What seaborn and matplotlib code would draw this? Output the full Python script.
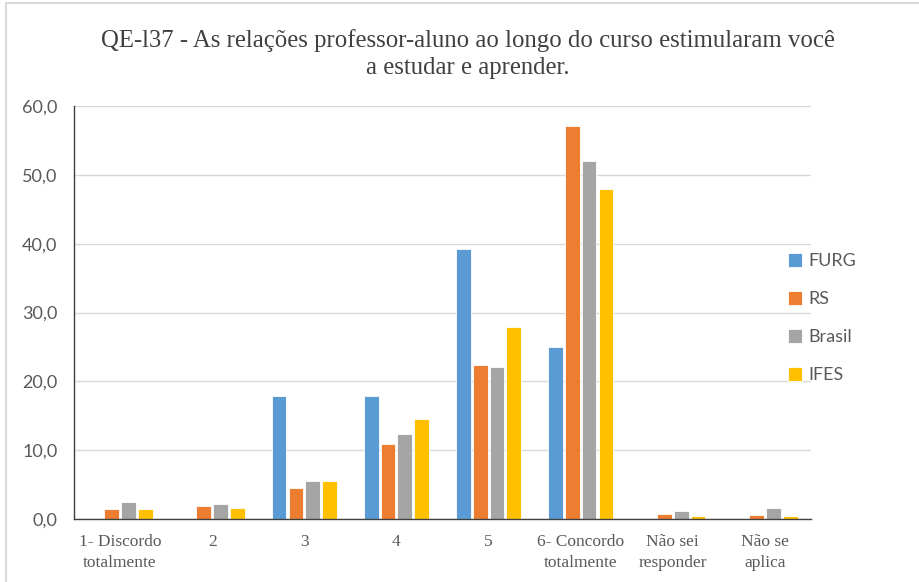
import pandas as pd
import numpy as np
import matplotlib.pyplot as plt
import seaborn as sns
from matplotlib.patches import Rectangle

# categories and values (%)
categorias = ['1- Discordo\ntotalmente', '2', '3', '4', '5',
              '6- Concordo\ntotalmente', 'Não sei\nresponder', 'Não se\naplica']
furg = [0.0, 0.0, 17.8, 17.8, 39.2, 25.0, 0.0, 0.0]
rs = [1.45, 1.9, 4.55, 10.9, 22.4, 57.1, 0.7, 0.6]
brasil = [2.4, 2.2, 5.5, 12.35, 22.1, 52.0, 1.15, 1.6]
ifes = [1.45, 1.6, 5.5, 14.6, 27.9, 47.9, 0.45, 0.45]
series = ['FURG', 'RS', 'Brasil', 'IFES']
cores = {'FURG': '#5b9bd5', 'RS': '#ed7d31', 'Brasil': '#a5a5a5', 'IFES': '#ffc000'}

# long format for seaborn
df = pd.DataFrame({'Categoria': categorias, 'FURG': furg, 'RS': rs,
                   'Brasil': brasil, 'IFES': ifes})
df_long = df.melt(id_vars='Categoria', var_name='Grupo', value_name='Valor')

sns.set_style('white')

fig = plt.figure(figsize=(9.2, 5.82), dpi=100)
ax = fig.add_axes([74 / 920, 1 - 519 / 582, (811 - 74) / 920, (519 - 106) / 582])

sns.barplot(data=df_long, x='Categoria', y='Valor', hue='Grupo', hue_order=series,
            palette=cores, width=0.73, gap=0.12, saturation=1,
            edgecolor='white', linewidth=0.6, ax=ax)

ax.set_ylim(0, 60)
ax.set_xlim(-0.5, len(categorias) - 0.5)
ax.set_yticks(np.arange(0, 61, 10))
ax.set_yticklabels([f'{v:.1f}'.replace('.', ',') for v in np.arange(0, 61, 10)],
                   fontsize=13, color='#595959', family='Lato')
ax.set_xticks(range(len(categorias)))
ax.set_xticklabels(categorias, fontsize=12.5, color='#595959', family='Liberation Serif',
                   linespacing=1.4)
ax.tick_params(axis='y', length=0, pad=12)
ax.tick_params(axis='x', length=0, pad=11)
ax.set_xlabel('')
ax.set_ylabel('')

ax.yaxis.grid(True, color='#d9d9d9', linewidth=1)
ax.set_axisbelow(True)
for s in ['top', 'right']:
    ax.spines[s].set_visible(False)
ax.spines['left'].set_color('#404040')
ax.spines['bottom'].set_color('#404040')
ax.spines['left'].set_linewidth(1)
ax.spines['bottom'].set_linewidth(1)

leg = ax.legend(loc='center left', bbox_to_anchor=(0.947, 0.486), frameon=False,
                prop={'family': 'Lato', 'size': 13}, labelcolor='#595959',
                handlelength=0.75, handleheight=0.75, handletextpad=0.35,
                labelspacing=1.22)

fig.text(468 / 920, 1 - 54 / 582,
         'QE-l37 - As relações professor-aluno ao longo do curso estimularam você\n'
         'a estudar e aprender.',
         ha='center', va='center', fontsize=17.8, family='Liberation Serif',
         color='#404040', linespacing=1.35)

# light border around the chart area
fig.patches.append(Rectangle((6 / 920, -0.1), 1.1, 1 - 3 / 582 + 0.1,
                             transform=fig.transFigure, fill=False,
                             edgecolor='#d9d9d9', linewidth=1.5))

fig.savefig('out.png', dpi=100)
